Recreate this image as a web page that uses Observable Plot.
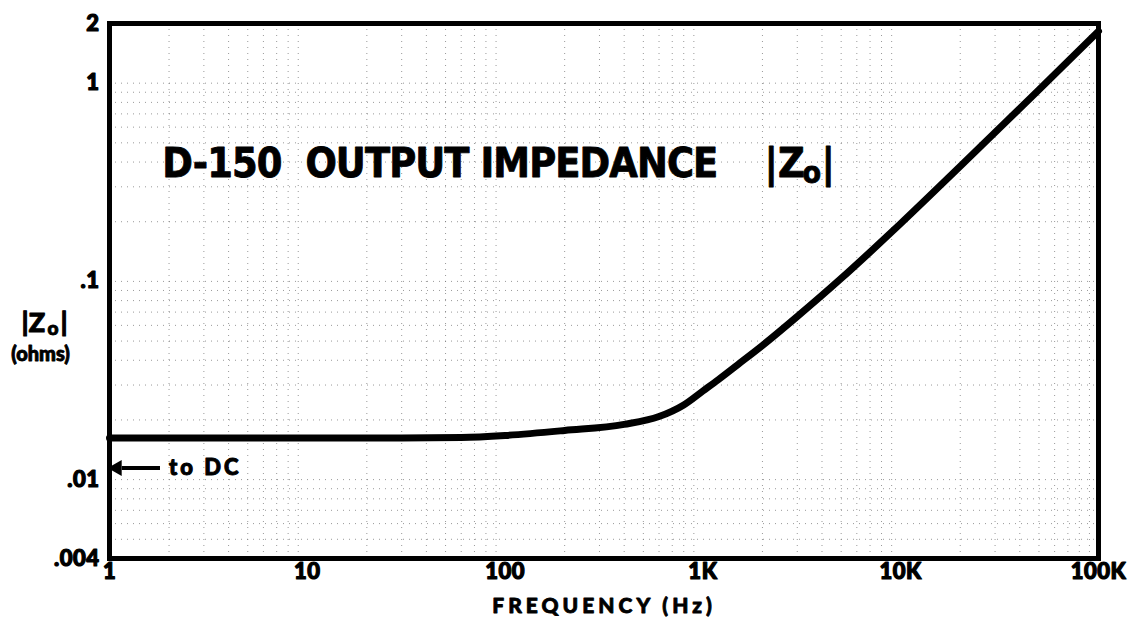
<!DOCTYPE html>
<html>
<head>
<meta charset="utf-8">
<script src="https://cdn.jsdelivr.net/npm/d3@7"></script>
<script src="https://cdn.jsdelivr.net/npm/@observablehq/plot@0.6"></script>
<style>
  html, body { margin: 0; padding: 0; background: #fff; }
  #chart { width: 1131px; height: 628px; }
  .xtitle text { letter-spacing: 4px; }
  .dcnote text { letter-spacing: 3px; }
  .maintitle text { letter-spacing: -0.9px; }
  .ticklab text { letter-spacing: 0.5px; }
</style>
</head>
<body>
<div id="chart"></div>
<script>
// Output impedance |Zo| (ohms) vs frequency (Hz)
const freq = [1, 10, 30, 60, 100, 200, 400, 600, 800, 1000, 1200, 1500, 2000, 3000, 5000, 7000, 10000, 20000, 50000, 100000];
const zo   = [0.0162, 0.0162, 0.0162, 0.0163, 0.0167, 0.0177, 0.019, 0.0208, 0.0238, 0.028, 0.032, 0.038, 0.0475, 0.0665, 0.1035, 0.1406, 0.196, 0.381, 0.927, 1.83];

const xTicks = [1, 10, 100, 1000, 10000, 100000];
const xLabels = ["1", "10", "100", "1K", "10K", "100K"];
const yTicks = [0.004, 0.01, 0.1, 1, 2];
const yLabels = [".004", ".01", ".1", "1", "2"];

const titleText = "D-150\u00a0\u00a0OUTPUT IMPEDANCE";
const xTitle = "FREQUENCY (Hz)";
const yTitle = "(ohms)";
const dcNote = "to DC";

// annotation anchors (data coordinates)
const titleAt = {x: 1.85, y: 0.39};
const zAt = {x: 2050, y: 0.39};
const yTitleAt = {z: 0.0612, ohms: 0.0428};
const dcArrow = {x1: 1.8, x2: 1.03, y: 0.01145};
const dcTextAt = {x: 2.0, y: 0.01145};

const data = freq.map((f, i) => ({f, z: zo[i]}));

// light dotted graph-paper grid
const gridX = [];
for (let k = 0; k < 5; k++) for (let m = 2; m <= 9; m++) gridX.push(m * 10 ** k);
const gridY = [];
for (let k = -3; k < 0; k++) for (let m = 1; m <= 9; m++) { const v = m * 10 ** k; if (v >= 0.005) gridY.push(v); }
gridY.push(1);

const heavy = "Lato, 'Open Sans', sans-serif";
const narrow = "'Liberation Sans Narrow', 'DejaVu Sans Condensed', 'Liberation Sans', sans-serif";
const ink = {fill: "#000", stroke: "#000"};

const chart = Plot.plot({
  width: 1131,
  height: 628,
  marginTop: 23,
  marginRight: 33,
  marginBottom: 70,
  marginLeft: 109,
  style: {background: "#fff", color: "#000"},
  x: {type: "log", domain: [1, 100000], axis: null},
  y: {type: "log", domain: [0.004, 2], axis: null},
  marks: [
    Plot.ruleX(gridX, {x: d => d, stroke: "#777", strokeWidth: 1, strokeDasharray: "1,5", strokeOpacity: 0.75}),
    Plot.ruleY(gridY, {y: d => d, stroke: "#777", strokeWidth: 1, strokeDasharray: "1,5", strokeOpacity: 0.75}),
    Plot.line(data, {x: "f", y: "z", curve: "monotone-x", stroke: "#000", strokeWidth: 7, strokeLinecap: "round"}),
    Plot.frame({stroke: "#000", strokeWidth: 5}),
    // x tick labels
    Plot.text(xTicks, {x: d => d, frameAnchor: "bottom", dy: 20, text: (d, i) => xLabels[i], className: "ticklab",
      fontSize: 22, fontWeight: 900, fontFamily: heavy, ...ink, strokeWidth: 1.2}),
    // y tick labels
    Plot.text(yTicks, {y: d => d, frameAnchor: "left", dx: -10, textAnchor: "end", text: (d, i) => yLabels[i], className: "ticklab",
      fontSize: 22, fontWeight: 900, fontFamily: heavy, ...ink, strokeWidth: 1.2}),
    // x axis title
    Plot.text([xTitle], {frameAnchor: "bottom", dy: 54, text: d => d, className: "xtitle", fontSize: 21, fontWeight: 900,
      fontFamily: heavy, ...ink, strokeWidth: 0.8}),
    // y axis title |Zo| (ohms)
    Plot.text(["|Z"], {frameAnchor: "left", y: () => yTitleAt.z, dx: -88, textAnchor: "start", text: d => d,
      fontSize: 27, fontWeight: 900, fontFamily: heavy, ...ink, strokeWidth: 1}),
    Plot.text(["o"], {frameAnchor: "left", y: () => yTitleAt.z, dx: -62, dy: 5, textAnchor: "start", text: d => d,
      fontSize: 19, fontWeight: 900, fontFamily: heavy, ...ink, strokeWidth: 1}),
    Plot.text(["|"], {frameAnchor: "left", y: () => yTitleAt.z, dx: -49, textAnchor: "start", text: d => d,
      fontSize: 27, fontWeight: 900, fontFamily: heavy, ...ink, strokeWidth: 1}),
    Plot.text([yTitle], {frameAnchor: "left", y: () => yTitleAt.ohms, dx: -69, textAnchor: "middle", text: d => d,
      fontSize: 20, fontWeight: 900, fontFamily: heavy, ...ink, strokeWidth: 0.9}),
    // chart title inside the plot
    Plot.text([titleText], {x: () => titleAt.x, y: () => titleAt.y, textAnchor: "start", text: d => d, className: "maintitle",
      fontSize: 41, fontWeight: 700, fontFamily: narrow, ...ink, strokeWidth: 0.8}),
    Plot.text(["|Z"], {x: () => zAt.x, y: () => zAt.y, textAnchor: "start", text: d => d,
      fontSize: 41, fontWeight: 700, fontFamily: narrow, ...ink, strokeWidth: 0.8}),
    Plot.text(["o"], {x: () => zAt.x, y: () => zAt.y, dx: 38, dy: 9, textAnchor: "start", text: d => d,
      fontSize: 30, fontWeight: 700, fontFamily: narrow, ...ink, strokeWidth: 0.8}),
    Plot.text(["|"], {x: () => zAt.x, y: () => zAt.y, dx: 57, textAnchor: "start", text: d => d,
      fontSize: 41, fontWeight: 700, fontFamily: narrow, ...ink, strokeWidth: 0.8}),
    // "to DC" arrow note
    Plot.link([dcArrow], {x1: d => d.x1, x2: d => d.x2 * 1.12, y1: d => d.y, y2: d => d.y, stroke: "#000", strokeWidth: 4}),
    Plot.dot([dcArrow], {x: d => d.x2 * 1.06, y: d => d.y, symbol: "triangle", rotate: -90, r: 6, fill: "#000", stroke: "none"}),
    Plot.text([dcNote], {x: () => dcTextAt.x, y: () => dcTextAt.y, textAnchor: "start", text: d => d, className: "dcnote",
      fontSize: 22, fontWeight: 900, fontFamily: heavy, ...ink, strokeWidth: 1})
  ]
});
document.getElementById("chart").appendChild(chart);
</script>
</body>
</html>
